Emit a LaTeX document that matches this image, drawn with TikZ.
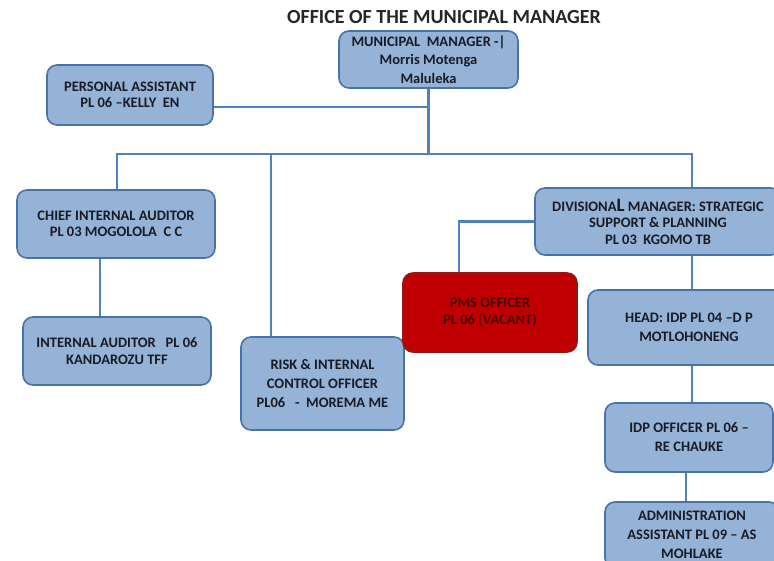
\documentclass[tikz,border=0pt]{standalone}
\usepackage{fontspec}
\setmainfont{Carlito}
\usetikzlibrary{backgrounds}
\definecolor{boxfill}{HTML}{95B3D7}
\definecolor{boxline}{HTML}{4A72A8}
\definecolor{linecol}{HTML}{4F81BD}
\definecolor{pmsfill}{HTML}{C00000}
\definecolor{pmsline}{HTML}{8C1A1A}
\definecolor{txt}{HTML}{1A1A24}
\definecolor{pmstxt}{HTML}{4A0000}
\tikzset{
  box/.style={draw=boxline, fill=boxfill, rounded corners=10pt, line width=1.6pt,
    align=center, inner sep=0pt, text=txt,
    font=\bfseries\fontsize{14.5}{16.5}\selectfont},
  vacant/.style={box, draw=pmsline, fill=pmsfill, text=pmstxt},
  conn/.style={draw=linecol, line width=2.4pt},
  titletext/.style={font=\bfseries\fontsize{20}{24}\selectfont, text=black!85}
}
\begin{document}
\begin{tikzpicture}[x=1pt,y=-1pt]
\useasboundingbox (0,0) rectangle (774,561);
\node[titletext] (T) at (444,17) {OFFICE OF THE MUNICIPAL MANAGER};
\node[box, minimum width=179pt, minimum height=57pt, font=\bfseries\fontsize{14.5}{18.5}\selectfont] (MM) at (428.5,59.5) {MUNICIPAL\ \ MANAGER -|\\Morris Motenga\\Maluleka};
\node[box, minimum width=166pt, minimum height=60pt] (PA) at (130,95) {PERSONAL ASSISTANT\\PL 06 –KELLY\ \ EN};
\node[box, minimum width=198pt, minimum height=68pt] (CIA) at (116,224) {CHIEF INTERNAL AUDITOR\\PL 03 MOGOLOLA\ \ C C};
\node[box, minimum width=188pt, minimum height=68pt] (IA) at (117,351) {INTERNAL AUDITOR\ \ \ PL 06\\KANDAROZU TFF};
\node[box, minimum width=163pt, minimum height=93pt, font=\bfseries\fontsize{14.5}{19}\selectfont] (RK) at (322.5,383.5) {RISK \& INTERNAL\\CONTROL OFFICER\\PL06\ \ \ -\ \ MOREMA ME};
\node[vacant, minimum width=174pt, minimum height=79pt] (PMS) at (490,312.5) {PMS OFFICER\\PL 06 (VACANT)};
\node[box, minimum width=246pt, minimum height=67pt] (DM) at (658,221.5) {DIVISIONA{\fontsize{19}{16}\selectfont L} MANAGER: STRATEGIC\\SUPPORT \& PLANNING\\PL 03\ \ KGOMO TB};
\node[box, minimum width=202pt, minimum height=75pt, font=\bfseries\fontsize{14.5}{19}\selectfont] (HD) at (689,327.5) {HEAD: IDP PL 04 –D P\\MOTLOHONENG};
\node[box, minimum width=168pt, minimum height=69pt, font=\bfseries\fontsize{14.5}{19}\selectfont] (IDP) at (689,437.5) {IDP OFFICER PL 06 –\\RE CHAUKE};
\node[box, minimum width=174pt, minimum height=66pt, font=\bfseries\fontsize{14.5}{19}\selectfont] (AD) at (692,535) {ADMINISTRATION\\ASSISTANT PL 09 – AS\\MOHLAKE};
\begin{scope}[on background layer]
\fill[white] (0,0) rectangle (774,561);
\coordinate (busL) at (117,154);
\coordinate (busR) at (692,154);
\coordinate (rkc) at (271,154);
\draw[conn] (busL |- CIA.north) -- (busL) -- (busR) -- (busR |- DM.north);
\draw[conn] (MM.south) -- (MM.south |- busL);
\coordinate (paj) at ([yshift=-12pt]PA.east);
\draw[conn] (paj) -- (paj -| MM.south);
\draw[conn] (rkc) -- (rkc |- RK.north);
\draw[conn] ([xshift=-16pt]CIA.south) -- ([xshift=-16pt]CIA.south |- IA.north);
\draw[conn] (DM.west) -| ([xshift=-31pt]PMS.north);
\draw[conn] (busR |- DM.south) -- (busR |- HD.north);
\draw[conn] (busR |- HD.south) -- (busR |- IDP.north);
\draw[conn] ([xshift=-3pt]IDP.south) -- ([xshift=-3pt]IDP.south |- AD.north);
\end{scope}
\end{tikzpicture}
\end{document}
